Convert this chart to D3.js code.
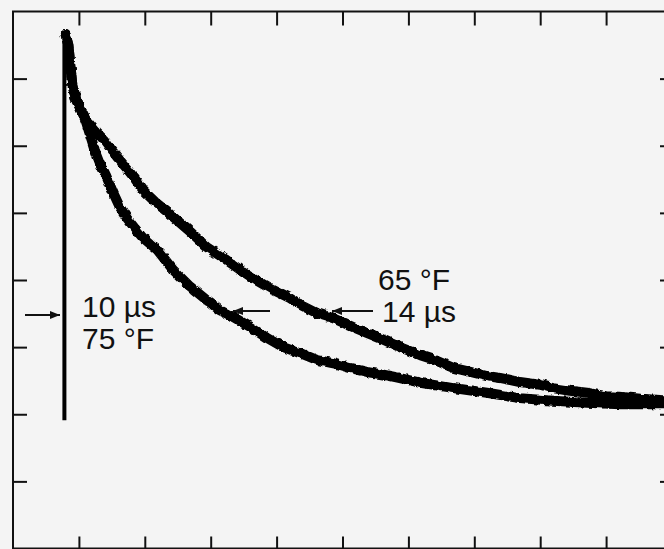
<!DOCTYPE html>
<html>
<head>
<meta charset="utf-8">
<script src="https://cdn.jsdelivr.net/npm/d3@7"></script>
<style>
  html, body { margin: 0; padding: 0; background: #f4f4f4; }
  svg { display: block; }
  .tick line { stroke: #111; stroke-width: 2; }
  .lbl { font-family: "Liberation Sans", Arial, sans-serif; font-size: 30px; fill: #111; }
</style>
</head>
<body>
<svg id="chart" width="664" height="549"></svg>
<script>
// screen divisions (oscilloscope grid)
let xTicks = [1, 2, 3, 4, 5, 6, 7, 8, 9];
let yTicks = [1, 2, 3, 4, 5, 6, 7];

// trigger edge
let riseX = [0.78, 0.78];
let riseY = [1.91, 7.65];

// 65 °F trace (14 µs decay)
let warmX = [0.80,0.84,0.87,0.90,0.96,1.05,1.14,1.26,1.38,1.47,1.59,1.72,1.84,1.97,2.16,2.31,2.43,2.69,2.94,3.22,3.45,3.70,3.95,4.20,4.36,4.60,4.86,5.11,5.37,5.62,5.87,6.18,6.37,6.68,6.94,7.19,7.39,7.69,8.00,8.19,8.45,8.71,8.98,9.21,9.52,9.88,10];
let warmY = [7.65,7.50,7.20,6.91,6.68,6.50,6.35,6.21,6.09,5.97,5.82,5.67,5.52,5.34,5.16,5.04,4.94,4.72,4.49,4.31,4.15,3.99,3.85,3.73,3.63,3.51,3.43,3.32,3.21,3.11,3.00,2.88,2.82,2.69,2.63,2.57,2.54,2.48,2.44,2.39,2.35,2.32,2.27,2.26,2.23,2.21,2.21];

// 75 °F trace (10 µs decay)
let hotX = [0.80,0.84,0.87,0.90,0.96,1.05,1.11,1.17,1.24,1.32,1.41,1.52,1.62,1.73,1.85,1.97,2.19,2.43,2.69,2.94,3.14,3.34,3.60,3.85,4.10,4.36,4.61,4.86,5.11,5.37,5.62,5.87,6.18,6.68,7.19,7.69,8.19,8.71,9.21,9.88,10];
let hotY = [7.65,7.50,7.20,6.91,6.68,6.50,6.35,6.16,5.94,5.74,5.56,5.30,5.09,4.92,4.77,4.63,4.45,4.15,3.90,3.70,3.55,3.45,3.30,3.14,3.00,2.91,2.81,2.76,2.69,2.63,2.59,2.54,2.47,2.39,2.32,2.24,2.20,2.17,2.15,2.15,2.15];

let labelsLeft = ["10 \u00b5s", "75 \u00b0F"];
let labelsRight = ["65 \u00b0F", "14 \u00b5s"];

let svg = d3.select("#chart");
let x = d3.scaleLinear().domain([0, 10]).range([13, 672]);
let y = d3.scaleLinear().domain([0, 8]).range([548.5, 11.5]);

let defs = svg.append("defs");
// scanned-trace roughness
let f = defs.append("filter").attr("id", "rough")
    .attr("x", "-5%").attr("y", "-5%").attr("width", "110%").attr("height", "110%");
f.append("feTurbulence").attr("type", "fractalNoise").attr("baseFrequency", 0.18)
    .attr("numOctaves", 2).attr("seed", 3).attr("result", "n");
f.append("feDisplacementMap").attr("in", "SourceGraphic").attr("in2", "n")
    .attr("scale", 4).attr("xChannelSelector", "R").attr("yChannelSelector", "G");

defs.append("marker").attr("id", "head")
    .attr("viewBox", "0 0 10 8").attr("refX", 10).attr("refY", 4)
    .attr("markerWidth", 10).attr("markerHeight", 8)
    .attr("markerUnits", "userSpaceOnUse").attr("orient", "auto")
    .append("path").attr("d", "M0,0L10,4L0,8Z").attr("fill", "#111");

// frame
svg.append("rect")
    .attr("x", x(0)).attr("y", y(8))
    .attr("width", x(10) - x(0)).attr("height", y(0) - y(8))
    .attr("fill", "none").attr("stroke", "#111").attr("stroke-width", 2);

// ticks on all four sides, pointing inward
let axes = [
  [d3.axisTop(x).tickValues(xTicks).tickSize(-14), "translate(0," + y(8) + ")"],
  [d3.axisBottom(x).tickValues(xTicks).tickSize(-12), "translate(0," + y(0) + ")"],
  [d3.axisLeft(y).tickValues(yTicks).tickSize(-14), "translate(" + x(0) + ",0)"],
  [d3.axisRight(y).tickValues(yTicks).tickSize(-12), "translate(" + x(10) + ",0)"]
];
axes.forEach(a => {
  let g = svg.append("g").attr("transform", a[1]).call(a[0].tickFormat(""));
  g.select(".domain").remove();
});

let line = d3.line().x(d => x(d[0])).y(d => y(d[1]));

svg.append("path")
    .attr("d", line(d3.zip(riseX, riseY)))
    .attr("fill", "none").attr("stroke", "#000").attr("stroke-width", 4);

let traces = svg.append("g").attr("filter", "url(#rough)");
[[warmX, warmY], [hotX, hotY]].forEach(s => {
  traces.append("path")
      .attr("d", line(d3.zip(s[0], s[1])))
      .attr("fill", "none").attr("stroke", "#000")
      .attr("stroke-width", 10)
      .attr("stroke-linejoin", "round").attr("stroke-linecap", "round");
});

// arrows
let arrows = [[25, 60, 315], [270, 233, 311], [373, 332, 311]];
arrows.forEach(a => {
  svg.append("line")
      .attr("x1", a[0]).attr("x2", a[1]).attr("y1", a[2]).attr("y2", a[2])
      .attr("stroke", "#111").attr("stroke-width", 2)
      .attr("marker-end", "url(#head)");
});

// labels
svg.append("text").attr("class", "lbl").attr("x", 82).attr("y", 317).text(labelsLeft[0]);
svg.append("text").attr("class", "lbl").attr("x", 82).attr("y", 349).text(labelsLeft[1]);
svg.append("text").attr("class", "lbl").attr("x", 378).attr("y", 290).text(labelsRight[0]);
svg.append("text").attr("class", "lbl").attr("x", 382).attr("y", 322).text(labelsRight[1]);
</script>
</body>
</html>
